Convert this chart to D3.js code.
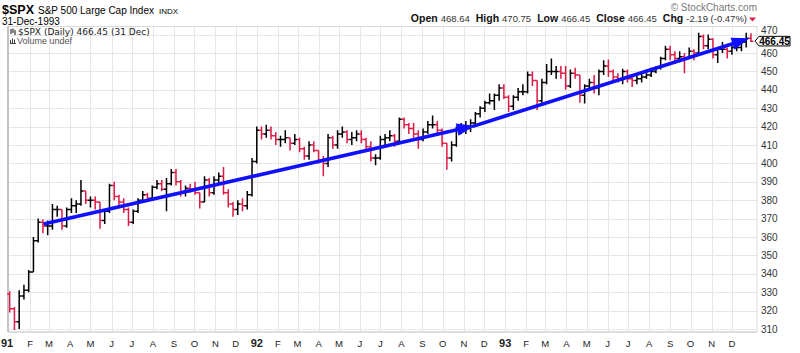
<!DOCTYPE html>
<html>
<head>
<meta charset="utf-8">
<script src="https://cdn.jsdelivr.net/npm/d3@7"></script>
<style>
  body { margin: 0; background: #fff; }
  text { font-family: "Liberation Sans", Arial, sans-serif; }
</style>
</head>
<body>
<script>
// weekly closes / highs / lows of $SPX (Jan 1991 - Dec 1993)
const closes = [321,314,328,331,341,358,368,366,366,375,375,366,375,377,378,385,380,380,379,369,
  374,388,382,379,375,368,374,380,383,381,387,389,386,389,395,390,384,386.5,386,384,
  379,391,384,391,393,384,378,375,378,377,383,401,418,416,418,415,413,413,414,411,
  413,408,404,410,407,402,400,414,410,416,417,413,414,416,413,409,403,403,413,414,
  415,412,424,421,419,416,413,417,421,421,418,411,403,410,418,419,419,422,427,430,
  433,434,437,441,436,431,436,439,439,448,445,434,444,450,450,450,449,442,449,448,
  437,442,444,441,450,453,450,447,446,450,446,445,446,447,448,450,452,457,462,459,
  457,458,457,461,460,469,464,467.5,459,462,462,461,463,463,466,468,466.45]
const highs = [330.5,322,331,334,342,360,370,369.5,369,378,377,374,376,381,380,391,385,382,382,379,
  375,389,390,383,381,376,375,381,385,384,388,391,391,392,397,397,391,388,389,390,
  384,393,392,393,395,398,386,379,380,381,385,403,420,420,421,420,417,415,418,414,
  416,414,409,412,412,406,404,416,415,418,420,418,417,418,418,414,412,405,415,416,
  418,416,425,425,422,422,418,419,423,426,423,419,411,412,420,422,423,424,428,431,
  434,438,438,443,443,437,437,441,443,450,450,444,446,454,457,453,453,453,451,452,
  447,443,446,448,451,456,456.5,451,449,451.5,451,447,449,449,451,452,453,458,464,464,
  461,461,460,463,462,471,470,470,468,463,466,463,464,466,467,471,470.75]
const lows = [319,309.5,310,326,330,341,357,362,361,364,371,364,365,373,373,377,378,376,375,364.5,
  367,373,380,376,373,366,367,373,379,379,380,386,385,374,388,388,382,382,384,383,
  375.5,379,382,383,389,383,376,371,372,374,375,382,400,413,414,413,410,409,411,407,
  410,406,402,402,406,400,393,398,408,408,414,411,410,412,411,406,401,399,402,409,
  412,409,411,419,416,414,408,412,416,419,416,409,396.5,401,409,416,416,417,420,425,
  428,432,429,434,435,428,429,434,437,438,442,429,433,443,448,446,446,440,441,446,
  433,432.5,440,438,437,448,447,445,444,443,444,441.5,443,444,446,447,449,451,456,456,
  454,455,449,457,456,459,462,462,457,454.5,460,457,459,461,461,463,466]
const firstOpen = 329

const yTicks = [310,320,330,340,350,360,370,380,390,400,410,420,430,440,450,460,470]
const monthLetters = ['J','F','M','A','M','J','J','A','S','O','N','D']

// hand-drawn trend arrows: [date, value] -> [date, value]
const trendArrows = [
  [[new Date(1991, 1, 21), 367], [new Date(1992, 10, 17), 420.5]],
  [[new Date(1992, 10, 13), 420], [new Date(1993, 11, 27), 468]]
]

const weeks = d3.timeFriday.range(new Date(1991, 0, 4), new Date(1994, 0, 1))
const bars = weeks.map((d, i) => {
  const open = i === 0 ? firstOpen : closes[i - 1]
  return {
    date: d, open: open, close: closes[i],
    high: Math.max(highs[i], open, closes[i]),
    low: Math.min(lows[i], open, closes[i])
  }
})

const W = 800, H = 353
const plotLeft = 8, plotRight = 757, plotTop = 26.5, plotBottom = 332

const svg = d3.select("body").append("svg")
    .attr("width", W).attr("height", H)

const x = d3.scaleTime()
    .domain([new Date(1991, 0, 1), new Date(1994, 0, 1)])
    .range([9, 753])
const y = d3.scaleLinear()
    .domain([310, 470])
    .range([329, 34.6])

// grid
const grid = svg.append("g")
grid.selectAll("line.h")
  .data(yTicks)
  .join("line")
    .attr("x1", plotLeft).attr("x2", plotRight)
    .attr("y1", d => Math.round(y(d)) + 0.5).attr("y2", d => Math.round(y(d)) + 0.5)
    .attr("stroke", "#e6e6e6")

const months = d3.timeMonth.range(new Date(1991, 0, 1), new Date(1994, 0, 1))
grid.selectAll("line.v")
  .data(months.slice(1))
  .join("line")
    .attr("x1", d => Math.round(x(d)) + 0.5).attr("x2", d => Math.round(x(d)) + 0.5)
    .attr("y1", plotTop).attr("y2", plotBottom)
    .attr("stroke", "#e6e6e6")

// frame
svg.append("line").attr("x1", plotLeft).attr("x2", plotRight).attr("y1", plotTop).attr("y2", plotTop)
    .attr("stroke", "#d8d8d8")
svg.append("line").attr("x1", plotLeft).attr("x2", plotLeft).attr("y1", plotTop).attr("y2", plotBottom)
    .attr("stroke", "#c4c4c4").attr("stroke-width", 2)
svg.append("line").attr("x1", plotRight).attr("x2", plotRight).attr("y1", plotTop).attr("y2", plotBottom)
    .attr("stroke", "#bbb").attr("stroke-dasharray", "1,1")
svg.append("line").attr("x1", plotLeft).attr("x2", plotRight).attr("y1", plotBottom).attr("y2", plotBottom)
    .attr("stroke", "#bdbdbd")

// price bars (OHLC)
const up = "#000", down = "#dd1a44"
const gBars = svg.append("g").attr("stroke-width", 1.5)
gBars.selectAll("path")
  .data(bars)
  .join("path")
    .attr("stroke", d => d.close >= d.open ? up : down)
    .attr("fill", "none")
    .attr("d", d => {
      const cx = x(d3.timeDay.offset(d.date, -2))
      return `M${cx},${y(d.high)}V${y(d.low)}` +
             `M${cx - 2.4},${y(d.open)}H${cx}` +
             `M${cx},${y(d.close)}H${cx + 2.4}`
    })

// trend arrows
const blue = "#1010ff"
trendArrows.forEach(([a, b]) => {
  const x1 = x(a[0]), y1 = y(a[1]), x2 = x(b[0]), y2 = y(b[1])
  const len = Math.hypot(x2 - x1, y2 - y1)
  const ux = (x2 - x1) / len, uy = (y2 - y1) / len
  const hl = 18, hw = 6.3
  const bx = x2 - ux * hl, by = y2 - uy * hl
  svg.append("line")
      .attr("x1", x1).attr("y1", y1).attr("x2", bx + ux).attr("y2", by + uy)
      .attr("stroke", blue).attr("stroke-width", 3.6)
  svg.append("path")
      .attr("fill", blue)
      .attr("d", `M${x2},${y2}L${bx - uy * hw},${by + ux * hw}L${bx + uy * hw},${by - ux * hw}Z`)
})

// y axis labels (470 sits just above the last-price tag)
svg.append("g")
  .selectAll("text")
  .data(yTicks)
  .join("text")
    .attr("x", 761)
    .attr("y", d => d === 470 ? 33.5 : y(d) + 3.5)
    .attr("font-size", 10)
    .attr("fill", "#333")
    .text(d => d)

// last price tag
const lastY = y(closes[closes.length - 1])
svg.append("path")
    .attr("d", `M755,${lastY}L759,${lastY - 4.8}H790V${lastY + 4.8}H759Z`)
    .attr("fill", "#fff").attr("stroke", "#000").attr("stroke-width", 1)
svg.append("text")
    .attr("x", 774.5).attr("y", lastY + 3.6)
    .attr("text-anchor", "middle")
    .attr("font-size", 10).attr("font-weight", "bold")
    .text(d3.format(".2f")(closes[closes.length - 1]))

// x axis labels
svg.append("g")
  .selectAll("text")
  .data(months)
  .join("text")
    .attr("x", (d, i) => i === 0 ? 7 : x(d))
    .attr("y", 347)
    .attr("text-anchor", "middle")
    .attr("font-size", d => d.getMonth() === 0 ? 11 : 9.5)
    .attr("font-weight", d => d.getMonth() === 0 ? "bold" : "normal")
    .attr("fill", "#222")
    .text(d => d.getMonth() === 0 ? d3.timeFormat("%y")(d) : monthLetters[d.getMonth()])

// header
const title = svg.append("text").attr("x", 2).attr("y", 14)
title.append("tspan").attr("font-size", 12.5).attr("font-weight", "bold").text("$SPX")
title.append("tspan").attr("font-size", 10).attr("dx", 4).text("S&P 500 Large Cap Index")
title.append("tspan").attr("font-size", 8).attr("dx", 5).text("INDX")
svg.append("text").attr("x", 2).attr("y", 24.5).attr("font-size", 10).text("31-Dec-1993")

svg.append("text").attr("x", 757).attr("y", 11).attr("text-anchor", "end")
    .attr("font-size", 10).attr("fill", "#777").text("© StockCharts.com")

const quote = [["Open", "468.64"], ["High", "470.75"], ["Low", "466.45"], ["Close", "466.45"], ["Chg", "-2.19 (-0.47%)"]]
const qt = svg.append("text").attr("x", 747).attr("y", 21.5).attr("text-anchor", "end").attr("fill", "#111")
quote.forEach(([k, v], i) => {
  qt.append("tspan").attr("font-size", 10.5).attr("font-weight", "bold").attr("dx", i ? 6 : 0).text(k)
  qt.append("tspan").attr("font-size", 9.5).attr("dx", 3).attr("fill", "#333").text(v)
})
svg.append("path").attr("d", "M749,17.5H756L752.5,21.5Z").attr("fill", down)

// legend inside plot
svg.append("path").attr("d", "M11,29V34M13,28.5V33M15,30V35").attr("stroke", "#333").attr("stroke-width", 1.2)
svg.append("text").attr("x", 18).attr("y", 34.5)
    .style("font-family", "'DejaVu Sans', Verdana, sans-serif")
    .attr("font-size", 9).attr("fill", "#222")
    .text("$SPX (Daily) 466.45 (31 Dec)")
svg.append("path").attr("d", "M10.5,43V40M12.5,43V38.5M14.5,43V39.5M10,43.5H16").attr("stroke", "#444").attr("stroke-width", 1)
svg.append("text").attr("x", 17).attr("y", 43.5)
    .attr("font-size", 9).attr("fill", "#555")
    .text("Volume undef")
</script>
</body>
</html>
